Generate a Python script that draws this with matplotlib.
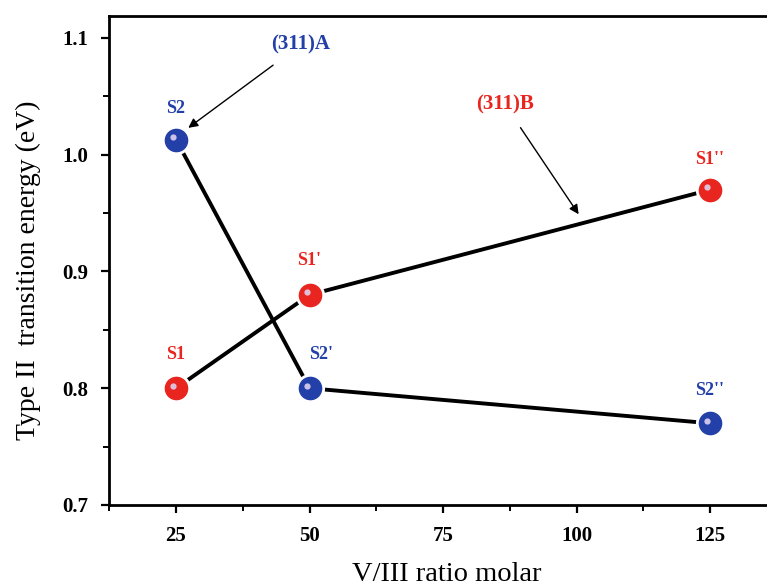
import matplotlib
matplotlib.use("Agg")
import matplotlib.pyplot as plt
from matplotlib.ticker import MultipleLocator

# Data
ratio = [25, 50, 125]
s1_energy = [0.80, 0.88, 0.97]        # (311)B series
s2_energy = [1.013, 0.80, 0.77]       # (311)A series
s1_labels = ["S1", "S1'", "S1''"]
s2_labels = ["S2", "S2'", "S2''"]
xticks = [25, 50, 75, 100, 125]
yticks = [0.7, 0.8, 0.9, 1.0, 1.1]

red = "#e8261f"
blue = "#2340a8"
serif = ["Liberation Serif", "DejaVu Serif"]

fig = plt.figure(figsize=(7.67, 5.86), dpi=100)
ax = fig.add_axes([109.25 / 767, 81 / 586, 667.5 / 767, 489 / 586])
ax.set_xlim(12.5, 137.5)
ax.set_ylim(0.7, 1.1188)

# Lines
ax.plot(ratio, s1_energy, color="black", lw=2.8, zorder=2)
ax.plot(ratio, s2_energy, color="black", lw=2.8, zorder=2)

# Sphere-like markers
for ys, c in ((s1_energy, red), (s2_energy, blue)):
    ax.plot(ratio, ys, ls="none", marker="o", ms=20, mfc="white", mec="white", zorder=3)
    ax.plot(ratio, ys, ls="none", marker="o", ms=16, mfc=c, mec=c, zorder=4)
    ax.plot([x - 0.5 for x in ratio], [y + 0.002 for y in ys], ls="none", marker="o",
            ms=4.5, mfc="#e0d0f0", mec="none", alpha=0.9, zorder=5)

# Point labels
lab_off = {"S2": (0, 0.019), "S1": (0, 0.022), "S1'": (0, 0.022),
           "S2'": (2.2, 0.022), "S1''": (0, 0.019), "S2''": (0, 0.021)}
for xs, ys, labs, c in ((ratio, s1_energy, s1_labels, red), (ratio, s2_energy, s2_labels, blue)):
    for x, y, l in zip(xs, ys, labs):
        dx, dy = lab_off[l]
        ax.text(x + dx, y + dy, l, color=c, fontsize=13, fontweight="bold",
                family=serif, ha="center", va="bottom")

# Annotations
ax.annotate("(311)A", xy=(27.3, 1.023), xytext=(48.3, 1.094), color=blue,
            fontsize=15, fontweight="bold", family=serif, ha="center", va="center",
            arrowprops=dict(arrowstyle="-|>", color="black", lw=1.0, mutation_scale=14,
                            shrinkA=9, shrinkB=0))
ax.annotate("(311)B", xy=(100.4, 0.949), xytext=(86.6, 1.043), color=red,
            fontsize=15, fontweight="bold", family=serif, ha="center", va="center",
            arrowprops=dict(arrowstyle="-|>", color="black", lw=1.0, mutation_scale=14,
                            shrinkA=9, shrinkB=0))

# Axes styling
ax.set_xticks(xticks)
ax.set_yticks(yticks)
ax.xaxis.set_minor_locator(MultipleLocator(12.5))
ax.yaxis.set_minor_locator(MultipleLocator(0.05))
ax.tick_params(which="major", direction="out", length=6, width=1.6, labelsize=15, pad=9)
ax.tick_params(which="minor", direction="out", length=4, width=1.4)
ax.set_yticklabels([f"{v:.1f}" for v in yticks])
for lab in ax.get_xticklabels() + ax.get_yticklabels():
    lab.set_family(serif)
    lab.set_fontweight("bold")
for s in ax.spines.values():
    s.set_linewidth(2.0)

ax.set_xlabel("V/III ratio molar", fontsize=20.5, family=serif)
ax.set_ylabel("Type II  transition energy (eV)", fontsize=20, family=serif)
ax.xaxis.set_label_coords(338 / 667.5, -57 / 489)
ax.yaxis.set_label_coords(-68 / 667.5, 235 / 489)

fig.savefig("out.png", dpi=100)
